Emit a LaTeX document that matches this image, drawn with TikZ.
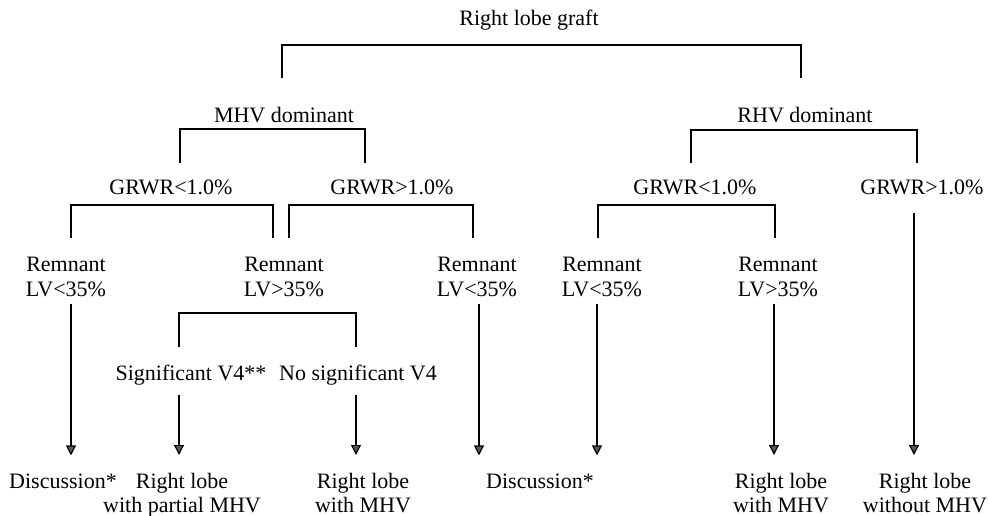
\documentclass[tikz,border=0pt]{standalone}
\usepackage{fontspec}
\setmainfont{Liberation Serif}
\usetikzlibrary{arrows.meta}
\begin{document}
\begin{tikzpicture}[x=1pt,y=-1pt,
  lbl/.style={font=\fontsize{22}{24.5}\selectfont, inner sep=0pt, outer sep=0pt, align=center},
  one/.style={lbl, anchor=base},
  two/.style={lbl, anchor=north},
  br/.style={draw=black, line width=1.2pt},
  arr/.style={draw=black, line width=1.2pt, -{Triangle[width=10pt,length=10pt,fill=black!65]}}]
\path[use as bounding box, fill=white] (0,0) rectangle (989,516);

% ---- labels ----
\node[one] (root) at (529,26) {Right lobe graft};
\node[one] (mhv) at (284,123) {MHV dominant};
\node[one] (rhv) at (805,123) {RHV dominant};
\node[one] (g1) at (171,195) {GRWR<1.0\%};
\node[one] (g2) at (392,195) {GRWR>1.0\%};
\node[one] (g3) at (695,195) {GRWR<1.0\%};
\node[one] (g4) at (922,195) {GRWR>1.0\%};
\node[two] (r1) at (66,257.4) {Remnant\\LV<35\%};
\node[two] (r2) at (284,257.4) {Remnant\\LV>35\%};
\node[two] (r3) at (477,257.4) {Remnant\\LV<35\%};
\node[two] (r4) at (602,257.4) {Remnant\\LV<35\%};
\node[two] (r5) at (778,257.4) {Remnant\\LV>35\%};
\node[one] (s1) at (191,380) {Significant V4**};
\node[one] (s2) at (358,380) {No significant V4};
\node[one] (d1) at (63,488) {Discussion*};
\node[two] (o1) at (182,473) {Right lobe\\with partial MHV};
\node[two] (o2) at (363,473) {Right lobe\\with MHV};
\node[one] (d2) at (540,488) {Discussion*};
\node[two] (o3) at (781,473) {Right lobe\\with MHV};
\node[two] (o4) at (925,473) {Right lobe\\without MHV};

% ---- bracket corners ----
\coordinate (tA) at (282,78);  \coordinate (tbar) at (529,45);  \coordinate (tB) at (801,78);
\coordinate (mA) at (180,163); \coordinate (mbar) at (284,129); \coordinate (mB) at (365,163);
\coordinate (hA) at (691,163); \coordinate (hbar) at (805,130); \coordinate (hB) at (917,163);
\coordinate (aA) at (71,238);  \coordinate (abar) at (171,205); \coordinate (aB) at (273,238);
\coordinate (bA) at (289,238); \coordinate (bbar) at (392,205); \coordinate (bB) at (473,238);
\coordinate (cA) at (598,238); \coordinate (cbar) at (695,205); \coordinate (cB) at (775,238);
\coordinate (vA) at (179,347); \coordinate (vbar) at (284,313); \coordinate (vB) at (356,347);

\draw[br] (tA) |- (tbar) -| (tB);
\draw[br] (mA) |- (mbar) -| (mB);
\draw[br] (hA) |- (hbar) -| (hB);
\draw[br] (aA) |- (abar) -| (aB);
\draw[br] (bA) |- (bbar) -| (bB);
\draw[br] (cA) |- (cbar) -| (cB);
\draw[br] (vA) |- (vbar) -| (vB);

% ---- arrow columns ----
\coordinate (c1) at (71,0);
\coordinate (c2) at (479,0);
\coordinate (c3) at (597,0);
\coordinate (c4) at (774,0);
\coordinate (c5) at (914,0);
\coordinate (c6) at (179,0);
\coordinate (c7) at (356,0);

\draw[arr, shorten <=7.5pt, shorten >=18pt] (r1.south -| c1) -- (d1.north -| c1);
\draw[arr, shorten <=7.5pt, shorten >=18pt] (r3.south -| c2) -- (d2.north -| c2);
\draw[arr, shorten <=7.5pt, shorten >=18pt] (r4.south -| c3) -- (d2.north -| c3);
\draw[arr, shorten <=7.5pt, shorten >=18pt] (r5.south -| c4) -- (o3.north -| c4);
\draw[arr, shorten <=17.7pt, shorten >=18pt] (g4.south -| c5) -- (o4.north -| c5);
\draw[arr, shorten <=10pt, shorten >=18pt] (s1.south -| c6) -- (o1.north -| c6);
\draw[arr, shorten <=10pt, shorten >=18pt] (s2.south -| c7) -- (o2.north -| c7);
\end{tikzpicture}
\end{document}
